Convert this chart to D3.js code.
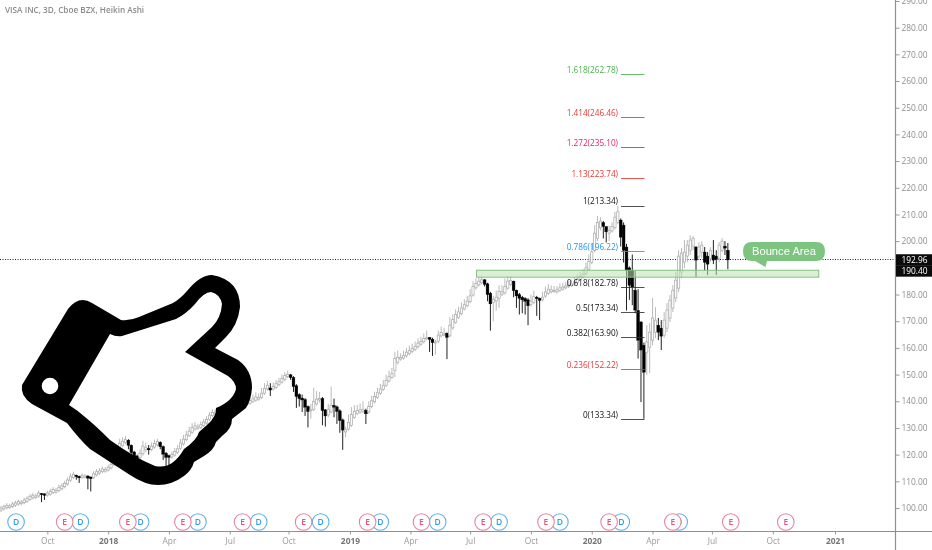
<!DOCTYPE html>
<html><head><meta charset="utf-8">
<script src="https://cdnjs.cloudflare.com/ajax/libs/d3/7.8.5/d3.min.js"></script>
<style>html,body{margin:0;background:#fff;overflow:hidden}svg{display:block;filter:blur(.35px)}text{font-family:"Open Sans",sans-serif}</style>
</head><body><svg id="c" width="932" height="550"></svg>
<script>
const title="VISA INC, 3D, Cboe BZX, Heikin Ashi";
const closes=[100.0,100.5,101.0,100.8,101.5,101.9,102.4,102.2,103.0,103.5,
104.4,104.8,104.5,105.6,105.0,104.8,105.6,106.2,106.9,106.6,
107.8,108.3,109.2,110.5,111.9,112.6,111.8,111.3,112.2,112.0,
111.2,111.0,112.8,113.6,113.9,114.6,114.4,115.2,116.4,118.0,
121.5,124.2,125.0,125.7,123.5,120.8,119.0,118.5,120.5,123.2,
122.8,121.8,123.2,124.2,124.9,123.0,120.2,119.0,119.0,120.0,
121.2,122.2,124.4,125.8,127.4,128.8,130.2,130.8,130.4,131.2,
132.2,133.2,134.8,135.8,136.0,136.3,136.6,136.9,137.2,137.6,
137.9,138.3,138.6,139.0,139.3,139.7,140.3,140.9,141.6,141.5,
143.0,144.8,146.0,144.2,145.5,146.6,147.3,148.5,149.6,150.1,
148.9,145.5,141.8,141.0,140.5,137.8,136.2,136.8,140.0,140.8,
141.0,136.5,134.5,137.0,138.5,137.8,136.2,132.8,129.2,129.5,
132.0,135.0,136.2,136.5,136.8,137.0,135.3,138.0,140.2,141.8,
143.2,144.6,146.0,147.8,149.2,150.5,156.0,156.5,156.4,157.2,
158.4,159.0,159.8,160.6,161.8,162.4,163.5,163.8,163.2,162.0,
162.2,164.8,165.8,165.2,164.0,168.5,170.6,172.5,173.5,175.0,
176.2,177.5,179.5,183.0,184.2,185.0,185.5,183.8,180.0,176.5,
178.2,179.0,181.2,181.0,183.0,185.0,185.2,181.5,179.5,178.6,
178.0,177.5,175.8,177.5,179.2,178.5,177.8,179.0,181.0,182.0,
181.8,181.5,181.8,182.5,182.8,183.2,183.6,184.0,184.8,185.8,
186.8,187.6,190.0,192.5,196.0,203.0,207.0,207.5,205.5,203.5,
204.0,205.5,209.0,211.0,
201.5,196.6,189.1,183.5,182.8,174.2,162.9,159.2,150.9,
162.2,165.9,171.2,170.4,165.9,164.4,170.4,174.2,177.9,181.6,185.4,194.4,195.5,195.9,198.5,200.4,201.1,
192.9,197.8,198.5,192.1,191.4,196.6,192.9,193.3,198.5,200.0,197.4,192.96];
const opens=[99.2,99.7,100.1,100.2,100.6,101.0,101.5,101.6,102.0,102.5,
103.2,103.8,103.9,104.5,105.4,105.3,104.8,105.2,105.8,105.9,
106.6,107.2,108.0,109.0,110.4,111.4,112.3,111.9,111.5,111.5,
112.0,111.6,111.4,112.4,113.0,113.6,113.8,114.2,115.0,116.2,
118.5,121.5,123.5,124.5,125.4,123.5,121.0,119.5,118.9,120.3,
121.8,122.3,122.0,122.8,123.6,124.6,123.0,120.5,119.6,119.1,
119.8,120.8,122.4,124.0,125.6,127.2,128.4,129.6,129.9,130.2,
130.9,131.8,133.2,134.6,135.2,135.6,135.9,136.2,136.5,136.8,
137.2,137.5,137.9,138.2,138.6,138.9,139.3,139.9,140.4,140.8,
141.4,143.0,144.6,145.0,144.6,145.2,146.2,147.2,148.2,149.2,
149.9,148.9,145.8,142.5,141.2,140.6,138.0,136.4,137.0,139.0,
140.5,141.0,136.8,134.9,136.0,138.4,137.9,136.4,133.0,128.5,
129.6,131.0,134.0,135.4,135.9,136.2,136.6,136.0,138.0,139.8,
141.4,143.0,144.4,146.0,147.6,149.0,151.5,154.5,155.8,156.2,
157.0,157.8,158.6,159.4,160.4,161.4,162.3,163.4,163.9,163.2,
162.0,162.5,164.5,165.0,165.5,164.5,167.5,169.6,171.4,172.8,
174.6,175.8,177.3,179.8,182.5,183.6,184.4,185.5,184.0,180.5,
177.0,177.6,178.6,180.1,180.6,182.4,183.8,185.0,181.6,180.0,
179.0,178.5,178.0,176.3,177.0,179.0,178.6,178.0,179.4,180.4,
181.0,181.2,181.0,181.5,182.0,182.5,183.0,183.4,183.8,184.6,
185.6,186.6,187.8,189.5,192.0,196.5,201.0,205.0,207.0,205.5,
203.0,203.8,205.0,207.0,
207.9,206.0,197.8,190.0,189.0,181.6,174.0,169.7,161.0,
158.4,160.3,162.9,165.9,168.5,167.4,164.8,167.4,171.2,174.9,178.7,182.4,188.4,192.1,194.4,196.6,198.1,
197.8,194.4,195.9,195.9,194.4,193.6,194.8,194.4,193.6,196.6,198.1,196.6];
const highs=[100.8,101.3,101.8,101.6,102.3,102.7,103.2,103.0,103.9,104.4,
105.3,105.7,105.4,106.6,105.6,105.4,106.5,107.2,107.8,107.5,
108.8,109.2,110.2,111.5,113.0,113.6,112.5,112.1,113.0,112.8,
112.2,111.8,113.8,114.6,115.0,115.6,115.3,116.2,117.4,119.2,
123.0,126.0,126.6,127.0,125.8,123.8,121.4,120.0,122.0,125.2,
124.5,123.6,124.6,125.6,126.0,125.0,123.4,121.0,120.0,121.2,
122.5,123.6,125.8,127.4,129.0,130.4,131.8,132.2,131.6,132.4,
133.4,134.4,136.0,137.0,137.0,137.3,137.6,137.9,138.2,138.6,
138.9,139.3,139.6,140.0,140.3,140.7,142.0,142.5,143.4,142.9,
145.0,146.8,147.6,146.8,147.0,148.0,148.8,150.0,151.0,151.5,
150.2,149.4,146.4,143.0,142.5,141.2,138.4,139.0,145.0,143.8,
143.5,141.6,137.0,139.0,145.5,141.0,138.4,137.0,133.5,130.5,
135.0,137.8,138.5,138.6,139.2,140.0,137.2,140.0,142.0,143.6,
145.0,146.5,148.0,150.0,151.5,152.5,158.5,159.0,158.0,159.0,
160.0,160.8,161.6,162.4,163.6,164.2,165.5,166.5,164.0,163.8,
163.0,166.5,168.0,167.5,165.8,171.5,172.5,174.4,175.5,177.0,
178.2,179.5,182.0,185.0,186.0,186.5,187.0,185.8,184.4,181.0,
179.5,181.5,183.5,183.5,186.0,187.0,187.0,185.2,181.8,180.6,
179.5,179.0,178.6,180.0,181.5,179.5,178.8,181.0,183.0,184.0,
183.4,183.2,183.2,184.2,184.4,184.8,185.2,185.6,186.6,187.6,
188.5,189.5,192.0,195.0,199.0,206.0,209.5,209.0,207.5,205.0,
205.8,207.0,211.0,213.3,
208.5,207.0,199.0,190.5,195.0,189.0,182.0,170.0,162.0,
168.5,169.3,178.7,175.3,171.2,170.4,173.4,176.8,179.8,183.5,188.4,196.6,197.4,200.4,200.4,202.2,201.9,
198.1,199.6,200.0,197.8,195.9,197.8,200.4,196.6,199.6,201.1,200.0,199.3];
const lows=[98.5,99.0,99.4,99.6,99.9,100.4,100.8,101.0,101.4,101.9,
102.6,103.2,103.4,103.8,102.2,103.0,104.2,104.6,105.2,105.4,
106.0,106.6,107.4,108.4,109.8,110.8,110.6,109.4,110.9,111.0,
107.0,106.2,110.8,111.8,112.4,113.0,113.2,113.6,114.4,115.6,
117.8,120.8,122.8,123.8,122.0,119.5,117.5,116.0,118.2,119.6,
120.9,120.0,121.3,122.2,123.0,122.0,118.0,115.5,116.0,118.4,
119.2,120.2,121.8,123.4,125.0,126.6,127.8,129.0,129.3,129.6,
130.3,131.2,132.6,134.0,134.6,135.0,135.3,135.6,135.9,136.2,
136.6,136.9,137.3,137.6,138.0,138.3,138.7,139.3,139.8,140.2,
140.8,142.4,144.0,142.0,144.0,144.6,145.6,146.6,147.6,148.6,
148.0,143.5,137.5,138.0,136.0,134.5,130.2,133.5,136.4,138.4,
139.5,131.0,130.5,134.0,135.5,134.0,131.5,128.2,121.8,126.5,
129.0,130.4,133.4,134.8,135.3,135.6,131.5,135.4,137.4,139.2,
140.8,142.4,143.8,145.4,147.0,148.4,149.0,153.8,155.2,155.6,
156.4,157.2,158.0,158.8,159.8,160.8,161.7,162.8,158.5,157.0,
157.5,161.8,163.9,164.4,155.8,164.0,166.8,169.0,170.8,172.2,
174.0,175.2,176.7,179.2,181.9,183.0,183.8,183.0,177.5,166.5,
170.0,174.0,175.0,179.4,180.0,181.8,183.2,179.0,175.0,172.5,
173.0,172.5,168.5,175.4,176.4,172.0,170.4,177.4,178.8,179.8,
180.4,180.6,180.4,180.9,181.4,181.9,182.4,182.8,183.2,184.0,
185.0,186.0,187.2,188.8,191.4,195.8,200.0,204.0,201.0,199.5,
200.0,203.2,204.4,206.4,
198.0,192.0,174.0,178.0,176.0,173.0,156.0,139.7,133.4,
149.8,150.6,161.0,163.7,162.9,159.2,163.7,165.9,169.7,173.4,177.2,180.9,186.1,189.9,192.1,194.8,196.6,
186.5,192.9,193.6,189.1,187.3,192.1,191.4,187.3,192.1,195.9,194.8,189.5];

const priceTicks=[290,280,270,260,250,240,230,220,210,200,180,170,160,150,140,130,120,110,100];
const timeBars=[16,37,58,79,99.3,120.5,141.4,162,183,204,225,245.5,266.5,288];
const timeLabels=["Oct","2018","Apr","Jul","Oct","2019","Apr","Jul","Oct","2020","Apr","Jul","Oct","2021"];
const fibRatios=["1.618","1.414","1.272","1.13","1","0.786","0.618","0.5","0.382","0.236","0"];
const fibPrices=[262.78,246.46,235.10,223.74,213.34,196.22,182.78,173.34,163.90,152.22,133.34];
const fibColors=["#4caf50","#e53935","#e91e63","#e53935","#333","#2196f3","#333","#333","#333","#e53935","#333"];
const eventTypes=["D","E","D","E","D","E","D","E","D","E","D","E","D","E","D","E","D","E","D","E","D","E","D","E","E"];
const eventBars=[5.2,22,27.4,43.8,48.2,62.8,68,83.4,89,104.5,110.4,126.6,131,145.2,150.8,166.5,172,188.2,193,210,214.2,232,234.2,252,271];
const lastPrice=192.96, prevPrice=190.40;
const zoneTop=189.1, zoneBottom=186.5, zoneBarStart=164.2, zoneBarEnd=282.4;
const noteText="Bounce Area";

const svg=d3.select("#c");
const x=d3.scaleLinear().domain([0,288]).range([1,835]);
const y=d3.scaleLinear().domain([100,290]).range([508,1]);
const axisX=895.5, axisY=531.5;

svg.append("line").attr("x1",0).attr("x2",axisX).attr("y1",259.5).attr("y2",259.5)
 .attr("stroke","#222").attr("stroke-width",1).attr("stroke-dasharray","1 1.5");

// candles
const bars=closes.map((c,i)=>({i,c,o:opens[i],h:highs[i],l:lows[i],up:c>=opens[i]}));
const g=svg.append("g");
g.selectAll("line.w").data(bars).join("line").attr("class","w")
 .attr("x1",d=>x(d.i)).attr("x2",d=>x(d.i)).attr("y1",d=>y(d.h)).attr("y2",d=>y(d.l))
 .attr("stroke",d=>d.up?"#a8a8a8":"#222").attr("stroke-width",d=>d.up?.8:1);
g.selectAll("rect.b").data(bars).join("rect").attr("class","b")
 .attr("x",d=>x(d.i)-(d.up?1.1:1.4)).attr("width",d=>d.up?2.2:2.8)
 .attr("y",d=>y(Math.max(d.o,d.c))).attr("height",d=>Math.max(1,Math.abs(y(d.o)-y(d.c))))
 .attr("fill",d=>d.up?"#fff":"#000").attr("stroke",d=>d.up?"#a8a8a8":"#000").attr("stroke-width",d=>d.up?.7:.4);

// zone
svg.append("rect").attr("x",x(zoneBarStart)).attr("width",x(zoneBarEnd)-x(zoneBarStart))
 .attr("y",y(zoneTop)).attr("height",y(zoneBottom)-y(zoneTop))
 .attr("fill","#bfe0b4").attr("fill-opacity",.55).attr("stroke","#84c47e").attr("stroke-width",1);

// fib levels
const fib=svg.append("g");
fib.selectAll("line").data(fibPrices).join("line")
 .attr("x1",621).attr("x2",644.5).attr("y1",d=>Math.round(y(d))+.5).attr("y2",d=>Math.round(y(d))+.5)
 .attr("stroke",(d,i)=>fibColors[i]).attr("stroke-width",1).attr("stroke-opacity",.85);
fib.selectAll("text").data(fibPrices).join("text")
 .attr("x",618).attr("y",d=>y(d)-4).attr("dy",".35em").attr("text-anchor","end")
 .attr("font-size",8.2).attr("font-weight",500).attr("fill",(d,i)=>fibColors[i]=="#333"?"#111":fibColors[i])
 .text((d,i)=>`${fibRatios[i]}(${d.toFixed(2)})`);

// event markers
const ev=eventTypes.map((t,i)=>({t,b:eventBars[i]})).sort((a,b)=>a.t<b.t?-1:1);
const eg=svg.selectAll("g.ev").data(ev).join("g").attr("class","ev").attr("transform",d=>`translate(${x(d.b)},522)`);
eg.append("circle").attr("r",8.3).attr("fill","#fff").attr("fill-opacity",d=>d.t=="E"?.93:0)
 .attr("stroke",d=>d.t=="E"?"#e8839f":"#5cb0ea").attr("stroke-width",1.1);
eg.append("text").attr("text-anchor","middle").attr("dy",".35em").attr("font-size",8.5).attr("font-weight",600)
 .attr("fill",d=>d.t=="E"?"#e0577f":"#2f9be8").text(d=>d.t);

// thumb icon
svg.append("path").attr("fill","#000").attr("fill-rule","evenodd").attr("d",
 "M68 309Q79 295 92 303L121 320Q130 321 139 317L173 303Q180 299 187 291Q200 275 212 275Q240 280 240 307Q238 325 226 337L215 348L238 360Q252 370 252 388Q251 400 246 408L232 419Q232 429 222 436L216 442Q214 450 204 456L194 462Q192 470 184 476Q172 485 158 485Q145 485 130 475L90 449Q80 440 67 423L32 404Q20 396 22 385Z"+
 "M110 334Q116 337 122 336L176 319Q186 314 195 304Q204 292 211 292Q220 294 222 304Q221 318 212 327L185 352L228 376Q236 382 236 389Q233 401 216 408Q217 416 207 425L199 432Q197 440 184 449Q179 458 172 463Q165 468 155 466Q135 458 110 440Q95 425 85 417Q77 410 69 405Z"+
 "M41.7 386a8.3 8.3 0 1 0 16.6 0a8.3 8.3 0 1 0 -16.6 0Z");

// note
svg.append("path").attr("fill","#7cc47f").attr("d","M752 242H816Q825 242 825 251Q825 261 816 261H767L765.5 267L755 261H752Q743 261 743 251Q743 242 752 242Z");
svg.append("text").attr("x",784).attr("y",251).attr("dy",".35em").attr("text-anchor","middle")
 .attr("font-size",11.2).attr("fill","#fff").style("font-family","'Liberation Sans',sans-serif").text(noteText);

// axes
const ay=svg.append("g").attr("transform",`translate(${axisX},0)`)
 .call(d3.axisRight(y).tickValues(priceTicks).tickSize(4).tickPadding(2).tickFormat(d3.format(".2f")));
ay.select(".domain").remove();
ay.selectAll(".tick line").attr("stroke","#999");
ay.selectAll("text").attr("font-size",8.4).attr("fill","#8f8f8f").style("font-family","'Open Sans',sans-serif");
const ax=svg.append("g").attr("transform",`translate(0,${axisY})`)
 .call(d3.axisBottom(x).tickValues(timeBars).tickSize(3).tickPadding(3.5).tickFormat((d,i)=>timeLabels[i]));
ax.select(".domain").remove();
ax.selectAll(".tick line").attr("stroke","#999");
ax.selectAll("text").attr("font-size",8.4).attr("fill",(d,i)=>/^\d/.test(timeLabels[i])?"#777":"#9a9a9a")
 .attr("font-weight",(d,i)=>/^\d/.test(timeLabels[i])?700:400).style("font-family","'Open Sans',sans-serif");
svg.append("line").attr("x1",axisX).attr("x2",axisX).attr("y1",0).attr("y2",550).attr("stroke","#909090").attr("stroke-width",1.2);
svg.append("line").attr("x1",0).attr("x2",932).attr("y1",axisY).attr("y2",axisY).attr("stroke","#909090").attr("stroke-width",1.2);

// last price tags: the lower tag is pushed down so the two do not overlap
const tags=[lastPrice,prevPrice];
const tagOffset=[0,4.2];
svg.selectAll("rect.tag").data(tags).join("rect").attr("class","tag").attr("x",896).attr("width",36)
 .attr("y",(d,i)=>y(d)+tagOffset[i]-5.7).attr("height",11.4).attr("fill","#0b0b0b");
svg.selectAll("text.tag").data(tags).join("text").attr("class","tag").attr("x",901.5).attr("y",(d,i)=>y(d)+tagOffset[i]).attr("dy",".35em")
 .attr("font-size",8.4).attr("fill","#fff").text(d=>d.toFixed(2));

svg.append("text").attr("x",5).attr("y",10).attr("dy",".35em").attr("font-size",8.2).attr("font-weight",600).attr("fill","#8c8c8c").text(title);
</script></body></html>
